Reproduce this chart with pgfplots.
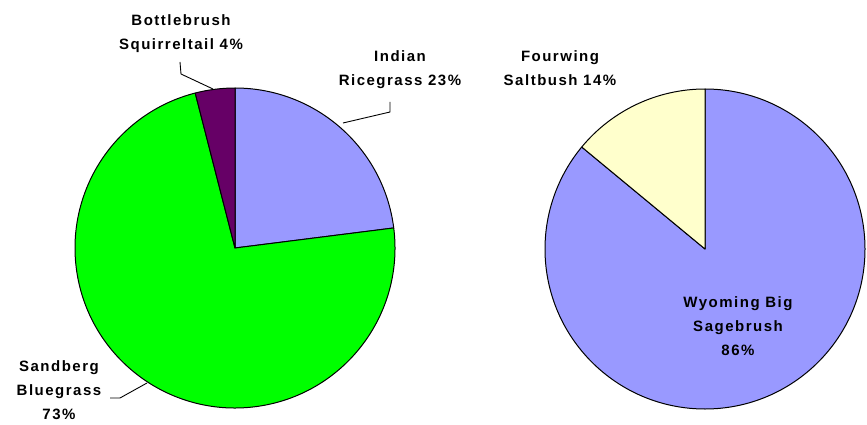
\documentclass[border=0pt]{standalone}
\usepackage{fontspec}
\setmainfont{Liberation Sans}
\newfontfamily\lbl{Liberation Sans}[LetterSpace=10]
\usepackage{pgfplots}
\pgfplotsset{compat=1.18}
\definecolor{cIndian}{HTML}{9999FF}
\definecolor{cSand}{HTML}{00FF00}
\definecolor{cBottle}{HTML}{660066}
\definecolor{cFour}{HTML}{FFFFCC}
\definecolor{cWyo}{HTML}{9999FF}
% percentages
\def\pIndian{23}
\def\pSandberg{73}
\def\pBottle{4}
\def\pWyoming{86}
\def\pFourwing{14}
% angles (clockwise from top)
\pgfmathsetmacro\aA{90}
\pgfmathsetmacro\aB{90-3.6*\pIndian}
\pgfmathsetmacro\aC{\aB-3.6*\pSandberg}
\pgfmathsetmacro\aD{\aC-3.6*\pBottle}
\pgfmathsetmacro\bA{90}
\pgfmathsetmacro\bB{90-3.6*\pWyoming}
\pgfmathsetmacro\bC{\bB-3.6*\pFourwing}
% slice: cx, cy, start angle, end angle, colour
\newcommand\slice[5]{%
  \filldraw[fill=#5, draw=black, line width=1pt, line join=round]
    (axis cs:#1,#2) -- ++(#3:160pt)
    arc[start angle=#3, end angle=#4, radius=160pt] -- cycle;}
\begin{document}
\begin{tikzpicture}
\begin{axis}[hide axis, scale only axis, x=1pt, y=1pt,
  xmin=0, xmax=867, ymin=0, ymax=424, clip=false]
% left pie
\slice{235}{176}{\aA}{\aB}{cIndian}
\slice{235}{176}{\aB}{\aC}{cSand}
\slice{235}{176}{\aC}{\aD}{cBottle}
% right pie
\slice{705}{175}{\bA}{\bB}{cWyo}
\slice{705}{175}{\bB}{\bC}{cFour}
% leader lines
\draw[black, line width=0.9pt] (axis cs:180,362) -- (axis cs:181,350) -- (axis cs:213,335);
\draw[black, line width=0.9pt] (axis cs:343,301) -- (axis cs:390,312) -- (axis cs:390,322);
\draw[black, line width=0.9pt] (axis cs:110,26) -- (axis cs:120,26) -- (axis cs:147,41);
% labels
\tikzset{lab/.style={align=center, inner sep=0pt, font=\lbl\bfseries\fontsize{15}{24}\selectfont}}
\node[lab] at (axis cs:181,390) {Bottlebrush\\Squirreltail 4\%};
\node[lab] at (axis cs:400,354) {Indian\\Ricegrass 23\%};
\node[lab] at (axis cs:59,34) {Sandberg\\Bluegrass\\73\%};
\node[lab] at (axis cs:560,356) {Fourwing\\Saltbush 14\%};
\node[lab] at (axis cs:738,98) {Wyoming Big\\Sagebrush\\86\%};
\end{axis}
\pgfresetboundingbox
\path (0,0) rectangle (867pt,424pt);
\end{tikzpicture}
\end{document}
